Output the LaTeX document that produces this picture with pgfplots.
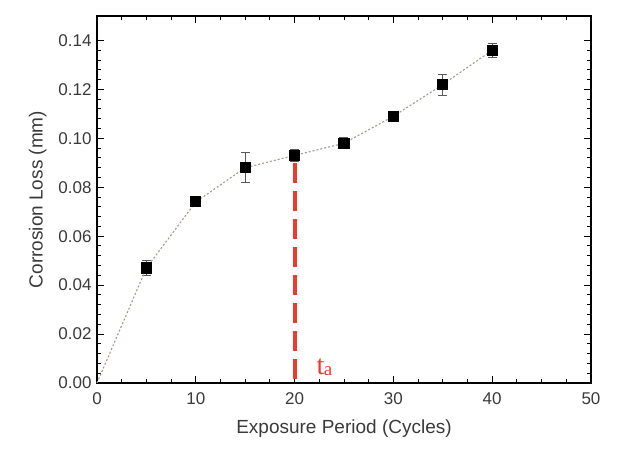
\documentclass[border=0pt]{standalone}
\usepackage{fontspec}
\setmainfont{Liberation Sans}
\newfontfamily\seriffont{Liberation Serif}
\usepackage{pgfplots}
\pgfplotsset{compat=1.18}
\definecolor{txtgray}{HTML}{3A3A3A}
\definecolor{dashred}{HTML}{EE3B2E}
\definecolor{linebrown}{HTML}{A8978C}
\begin{document}
\begin{tikzpicture}
\begin{axis}[
    scale only axis,
    width=494pt,
    height=367pt,
    xmin=0, xmax=50,
    ymin=0, ymax=0.15,
    xtick={0,10,20,30,40,50},
    ytick={0,0.02,0.04,0.06,0.08,0.10,0.12,0.14},
    minor x tick num=3,
    minor y tick num=4,
    tick align=inside,
    major tick length=7pt,
    minor tick length=4pt,
    every tick/.style={black, line width=1pt},
    axis line style={black, line width=1.2pt},
    y tick label style={xshift=-2pt, /pgf/number format/.cd, fixed, fixed zerofill, precision=2},
    /pgf/number format/assume math mode=true,
    ticklabel style={font=\fontsize{17}{20}\selectfont, text=txtgray},
    x tick label style={yshift=-6pt},
    label style={font=\fontsize{19}{22}\selectfont, text=txtgray},
    xlabel={Exposure Period (Cycles)},
    ylabel={Corrosion Loss (mm)},
    xlabel style={yshift=-8pt},
    ylabel style={yshift=5pt},
    clip=false,
]
\addplot[dashred, line width=4pt, dash pattern=on 20pt off 8pt] coordinates {(20,0.0015) (20,0.091)};
\addplot[linebrown, line width=1.1pt, dash pattern=on 2pt off 2pt,
    mark=square*, mark size=5pt, mark options={solid, fill=black, draw=black},
    error bars/.cd, y dir=both, y explicit,
    error bar style={solid, line width=0.8pt, black!65},
    error mark options={rotate=90, mark size=4.5pt, line width=0.8pt, black!65}]
coordinates {
(5,0.047) +- (0,0.003)
(10,0.074) +- (0,0.001)
(15,0.088) +- (0,0.0062)
(20,0.093) +- (0,0.0025)
(25,0.098) +- (0,0.0022)
(30,0.109) +- (0,0.0015)
(35,0.122) +- (0,0.0043)
(40,0.136) +- (0,0.003)
};
\addplot[linebrown, line width=1.1pt, dash pattern=on 2pt off 2pt] coordinates {(0,0) (5,0.047)};
\node[anchor=base west, text=dashred, font=\seriffont\fontsize{28}{30}\selectfont, inner sep=0pt] at (axis cs:22.2,0.0035) {t\kern-0.02em\raisebox{-0.03em}{\fontsize{19}{20}\selectfont a}};
\path (rel axis cs:0,0) ++(-97pt,-72pt) (rel axis cs:1,1) ++(27pt,16pt);
\end{axis}
\end{tikzpicture}
\end{document}
